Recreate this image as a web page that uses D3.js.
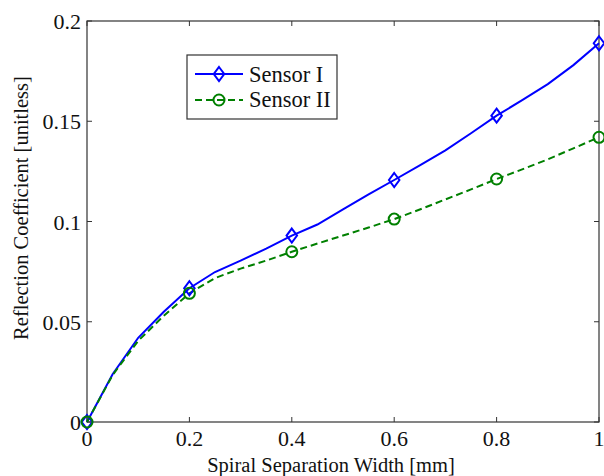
<!DOCTYPE html>
<html>
<head>
<meta charset="utf-8">
<script src="https://d3js.org/d3.v7.min.js"></script>
<style>
  body { margin: 0; background: #fff; }
</style>
</head>
<body>
<svg id="chart" width="604" height="476"></svg>
<script>
  // x positions of the sampled curve (spiral separation width, mm)
  let widths = [0, 0.05, 0.1, 0.15, 0.2, 0.25, 0.3, 0.35, 0.4, 0.45, 0.5,
                0.55, 0.6, 0.65, 0.7, 0.75, 0.8, 0.85, 0.9, 0.95, 1.0];
  let sensor1 = [0, 0.0238, 0.042, 0.055, 0.0667, 0.0748, 0.0805, 0.0865, 0.093, 0.0985, 0.106,
                 0.1135, 0.1207, 0.128, 0.1355, 0.144, 0.1528, 0.1605, 0.1685, 0.178, 0.1889];
  let sensor2 = [0, 0.0234, 0.0405, 0.053, 0.0642, 0.0718, 0.0765, 0.0805, 0.0849, 0.089, 0.093,
                 0.097, 0.1012, 0.106, 0.111, 0.116, 0.1212, 0.126, 0.131, 0.1365, 0.142];
  // markers only at these widths
  let markerWidths = [0, 0.2, 0.4, 0.6, 0.8, 1.0];
  let xTicks = [0, 0.2, 0.4, 0.6, 0.8, 1];
  let yTicks = [0, 0.05, 0.1, 0.15, 0.2];

  let svg = d3.select("#chart");
  let pLeft = 87, pRight = 599, pTop = 21, pBottom = 422;

  let x = d3.scaleLinear().domain([0, 1]).range([pLeft, pRight]);
  let y = d3.scaleLinear().domain([0, 0.2]).range([pBottom, pTop]);

  let axisColor = "#333";
  let font = "'Liberation Serif'";
  let txtColor = "#111";

  function addText(sel, size) {
    return sel.append("text").style("font-family", font).style("font-size", size)
      .attr("fill", txtColor);
  }

  // box
  svg.append("rect")
    .attr("x", pLeft).attr("y", pTop)
    .attr("width", pRight - pLeft).attr("height", pBottom - pTop)
    .attr("fill", "none").attr("stroke", axisColor).attr("stroke-width", 1.2);

  // ticks (inward, on all four sides)
  xTicks.forEach(t => {
    svg.append("line").attr("x1", x(t)).attr("x2", x(t))
      .attr("y1", pBottom).attr("y2", pBottom - 5).attr("stroke", axisColor);
    svg.append("line").attr("x1", x(t)).attr("x2", x(t))
      .attr("y1", pTop).attr("y2", pTop + 5).attr("stroke", axisColor);
    addText(svg, "22px").attr("x", x(t)).attr("y", 446)
      .attr("text-anchor", "middle").text(d3.format("")(t));
  });
  yTicks.forEach(t => {
    svg.append("line").attr("x1", pLeft).attr("x2", pLeft + 5)
      .attr("y1", y(t)).attr("y2", y(t)).attr("stroke", axisColor);
    svg.append("line").attr("x1", pRight).attr("x2", pRight - 5)
      .attr("y1", y(t)).attr("y2", y(t)).attr("stroke", axisColor);
    addText(svg, "22px").attr("x", pLeft - 6).attr("y", y(t) + 8)
      .attr("text-anchor", "end").text(d3.format("")(t));
  });

  // axis labels
  addText(svg, "20.5px").attr("x", 331).attr("y", 472)
    .attr("text-anchor", "middle").text("Spiral Separation Width [mm]");
  addText(svg, "20.5px")
    .attr("transform", "translate(28,208) rotate(-90)")
    .attr("text-anchor", "middle").text("Reflection Coefficient [unitless]");

  let line = d3.line().x(d => x(d[0])).y(d => y(d[1]));
  let d1 = widths.map((w, i) => [w, sensor1[i]]);
  let d2 = widths.map((w, i) => [w, sensor2[i]]);

  svg.append("path").attr("d", line(d1))
    .attr("fill", "none").attr("stroke", "#0000ff").attr("stroke-width", 2);
  svg.append("path").attr("d", line(d2))
    .attr("fill", "none").attr("stroke", "#008000").attr("stroke-width", 2)
    .attr("stroke-dasharray", "7,4");

  let diamond = (cx, cy, r) => `M${cx},${cy - r}L${cx + r * 0.75},${cy}L${cx},${cy + r}L${cx - r * 0.75},${cy}Z`;

  let m1 = d1.filter(d => markerWidths.includes(d[0]));
  let m2 = d2.filter(d => markerWidths.includes(d[0]));

  svg.selectAll(".dia").data(m1).enter().append("path")
    .attr("d", d => diamond(x(d[0]), y(d[1]), 7))
    .attr("fill", "none").attr("stroke", "#0000ff").attr("stroke-width", 2);
  svg.selectAll(".circ").data(m2).enter().append("circle")
    .attr("cx", d => x(d[0])).attr("cy", d => y(d[1])).attr("r", 5.5)
    .attr("fill", "none").attr("stroke", "#008000").attr("stroke-width", 2);

  // legend
  let lg = svg.append("g");
  lg.append("rect").attr("x", 187).attr("y", 55).attr("width", 150).attr("height", 64)
    .attr("fill", "#fff").attr("stroke", axisColor).attr("stroke-width", 1.2);
  lg.append("line").attr("x1", 195).attr("x2", 243).attr("y1", 74).attr("y2", 74)
    .attr("stroke", "#0000ff").attr("stroke-width", 2);
  lg.append("path").attr("d", diamond(219, 74, 7))
    .attr("fill", "none").attr("stroke", "#0000ff").attr("stroke-width", 2);
  addText(lg, "22.5px").attr("x", 249).attr("y", 82).text("Sensor I");
  lg.append("line").attr("x1", 195).attr("x2", 243).attr("y1", 100).attr("y2", 100)
    .attr("stroke", "#008000").attr("stroke-width", 2).attr("stroke-dasharray", "7,4");
  lg.append("circle").attr("cx", 219).attr("cy", 100).attr("r", 5.5)
    .attr("fill", "none").attr("stroke", "#008000").attr("stroke-width", 2);
  addText(lg, "22.5px").attr("x", 249).attr("y", 107).text("Sensor II");
</script>
</body>
</html>
